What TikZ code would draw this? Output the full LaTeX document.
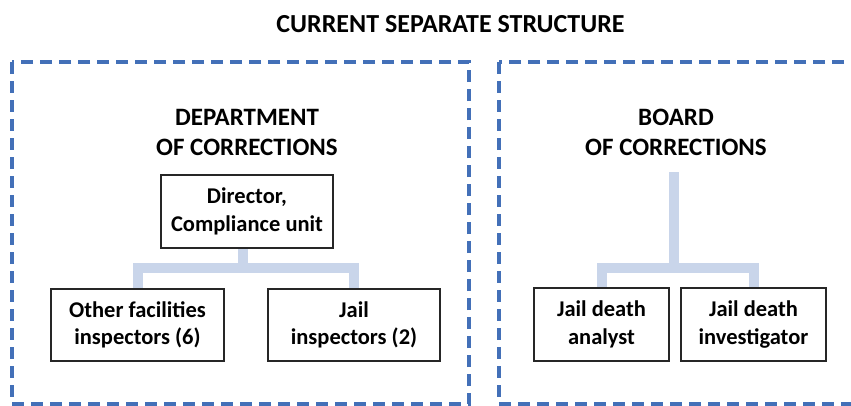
\documentclass[tikz,border=0pt]{standalone}
\usepackage{fontspec}
\setmainfont{Carlito}
\definecolor{dashblue}{HTML}{4370B8}
\definecolor{connblue}{HTML}{C9D5EA}
\tikzset{
  frame/.style={draw=dashblue, line width=3.5pt, dash pattern=on 12pt off 7pt},
  head/.style={font=\bfseries\fontsize{25}{30}\selectfont, align=center, inner sep=0pt},
  unitbox/.style={draw=black!85, line width=1.3pt, fill=white, align=center,
    font=\bfseries\fontsize{22.5}{27.5}\selectfont, inner sep=0pt},
  conn/.style={draw=connblue, line width=10pt, line join=miter}
}
\begin{document}
\begin{tikzpicture}[x=1pt,y=-1pt]
\useasboundingbox (0,0) rectangle (851,405);
\clip (0,0) rectangle (851,405);
\fill[white] (0,0) rectangle (851,405);
% title
\node[head, font=\bfseries\fontsize{26}{30}\selectfont, anchor=base] (title) at (450.5,32) {CURRENT SEPARATE STRUCTURE};
% frames
\draw[frame] (12,62) rectangle (469,404);
\draw[frame] (499,62) rectangle (890,404);
% headings
\node[head, anchor=base] (doc) at (247,155) {DEPARTMENT\\OF CORRECTIONS};
\node[head, anchor=base] (boc) at (676,155) {BOARD\\OF CORRECTIONS};
% connector anchors
\coordinate (bar1) at (243,268);
\coordinate (btop) at (674,172);
\coordinate (bar2) at (674,268);
% boxes (named), connectors, then boxes drawn again on top
\node[unitbox, minimum width=172pt, minimum height=73pt] (dir) at (247,211.5) {Director,\\Compliance unit};
\node[unitbox, minimum width=173pt, minimum height=72pt] (ofi) at (137.5,325) {Other facilities\\inspectors (6)};
\node[unitbox, minimum width=172pt, minimum height=72pt] (jin) at (354,325) {Jail\\inspectors (2)};
\node[unitbox, minimum width=135pt, minimum height=73pt] (jda) at (601.5,324.5) {Jail death\\analyst};
\node[unitbox, minimum width=145pt, minimum height=73pt] (jdi) at (753.5,324.5) {Jail death\\investigator};
\draw[conn] (dir.south -| bar1) -- (bar1);
\draw[conn] (ofi.north) |- (bar1) -| (jin.north);
\draw[conn] (btop) -- (bar2);
\draw[conn] (jda.north) |- (bar2) -| (jdi.north);
\node[unitbox, minimum width=172pt, minimum height=73pt] at (dir) {Director,\\Compliance unit};
\node[unitbox, minimum width=173pt, minimum height=72pt] at (ofi) {Other facilities\\inspectors (6)};
\node[unitbox, minimum width=172pt, minimum height=72pt] at (jin) {Jail\\inspectors (2)};
\node[unitbox, minimum width=135pt, minimum height=73pt] at (jda) {Jail death\\analyst};
\node[unitbox, minimum width=145pt, minimum height=73pt] at (jdi) {Jail death\\investigator};
\end{tikzpicture}
\end{document}
